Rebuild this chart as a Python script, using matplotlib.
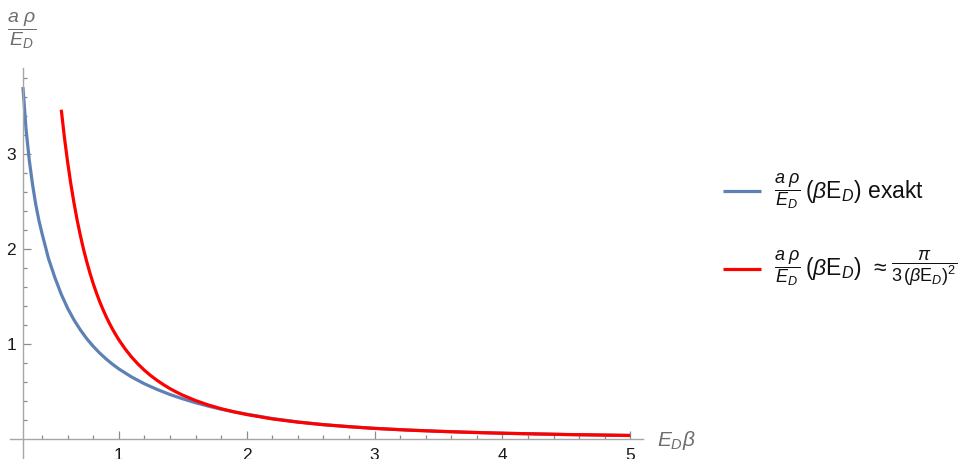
import matplotlib.pyplot as plt
from matplotlib.ticker import FixedLocator
from matplotlib.lines import Line2D
from matplotlib.offsetbox import (TextArea, HPacker, VPacker, DrawingArea,
                                  AnchoredOffsetbox)

plt.rcParams['font.family'] = ['Liberation Sans', 'DejaVu Sans']
plt.rcParams['mathtext.fontset'] = 'custom'
plt.rcParams['mathtext.rm'] = 'Liberation Sans'
plt.rcParams['mathtext.it'] = 'Liberation Sans:italic'
plt.rcParams['mathtext.bf'] = 'Liberation Sans:bold'

# exact density of states
x_exact = [0.25, 0.275, 0.30, 0.325, 0.35, 0.375, 0.40, 0.45, 0.50, 0.55,
           0.60, 0.65, 0.70, 0.75, 0.80, 0.85, 0.90, 0.95, 1.00, 1.10,
           1.20, 1.30, 1.40, 1.50, 1.60, 1.70, 1.80, 1.90, 2.00, 2.20,
           2.40, 2.60, 2.80, 3.00, 3.25, 3.50, 3.75, 4.00, 4.50, 5.00]
y_exact = [3.70, 3.25, 2.93, 2.68, 2.47, 2.30, 2.16, 1.90, 1.70, 1.524,
           1.377, 1.254, 1.149, 1.057, 0.978, 0.908, 0.846, 0.791, 0.741, 0.656,
           0.585, 0.525, 0.472, 0.427, 0.386, 0.350, 0.318, 0.291, 0.266, 0.220,
           0.184, 0.156, 0.135, 0.117, 0.100, 0.0865, 0.0752, 0.0660, 0.0522, 0.0423]

# high-temperature approximation pi / (3 (beta E_D)^2)
x_approx = [0.55, 0.575, 0.60, 0.625, 0.65, 0.675, 0.70, 0.725, 0.75, 0.775,
            0.80, 0.825, 0.85, 0.875, 0.90, 0.925, 0.95, 0.975, 1.00, 1.05,
            1.10, 1.15, 1.20, 1.25, 1.30, 1.35, 1.40, 1.45, 1.50, 1.60,
            1.70, 1.80, 1.90, 2.00, 2.20, 2.40, 2.60, 2.80, 3.00, 3.25,
            3.50, 3.75, 4.00, 4.50, 5.00]
y_approx = [3.462, 3.167, 2.909, 2.681, 2.479, 2.298, 2.137, 1.992, 1.862, 1.744,
            1.636, 1.539, 1.449, 1.368, 1.293, 1.224, 1.160, 1.102, 1.047, 0.950,
            0.865, 0.792, 0.727, 0.670, 0.620, 0.575, 0.534, 0.498, 0.465, 0.409,
            0.362, 0.323, 0.290, 0.262, 0.216, 0.182, 0.155, 0.134, 0.116, 0.099,
            0.0855, 0.0745, 0.0654, 0.0517, 0.0419]

x_major = [1, 2, 3, 4, 5]
y_major = [1, 2, 3]
x_minor = [0.4, 0.6, 0.8, 1.2, 1.4, 1.6, 1.8, 2.2, 2.4, 2.6, 2.8,
           3.2, 3.4, 3.6, 3.8, 4.2, 4.4, 4.6, 4.8]
y_minor = [0.2, 0.4, 0.6, 0.8, 1.2, 1.4, 1.6, 1.8, 2.2, 2.4, 2.6, 2.8,
           3.2, 3.4, 3.6, 3.8]

# legend entries: (text, fontsize) pieces laid out side by side
frac_rho = r'$\dfrac{a\;\rho}{E_D}$'
legend_exact = [(frac_rho, 13), (r'$(\beta\mathrm{E}_D)$ exakt', 16.5)]
legend_approx = [(frac_rho, 13), (r'$(\beta\mathrm{E}_D)\;\,\approx$', 16.5),
                 (r'$\dfrac{\pi}{3\,(\beta\mathrm{E}_D)^2}$', 13)]

blue, red = '#5E81B5', '#FF0000'

W, H = 969, 459
fig = plt.figure(figsize=(W / 100, H / 100), dpi=100)
ax = fig.add_axes([10 / W, 0, (643 - 10) / W, (459 - 68) / H])
ax.set_xlim(0.149, 5.1)
ax.set_ylim(-0.205, 3.9)

ax.plot(x_exact, y_exact, color=blue, lw=2.3,
        solid_capstyle='butt', solid_joinstyle='round')
ax.plot(x_approx, y_approx, color=red, lw=2.3,
        solid_capstyle='butt', solid_joinstyle='round')

axis_gray = '#A6A6A6'
for side in ('top', 'right'):
    ax.spines[side].set_visible(False)
ax.spines['left'].set_position(('data', 0.25))
ax.spines['bottom'].set_position(('data', 0))
for side in ('left', 'bottom'):
    ax.spines[side].set_color(axis_gray)
    ax.spines[side].set_linewidth(1.0)

ax.xaxis.set_major_locator(FixedLocator(x_major))
ax.yaxis.set_major_locator(FixedLocator(y_major))
ax.xaxis.set_minor_locator(FixedLocator(x_minor))
ax.yaxis.set_minor_locator(FixedLocator(y_minor))
ax.tick_params(which='both', direction='in', color='#8C8C8C', width=0.9,
               labelsize=12.5, labelcolor='#1a1a1a')
ax.tick_params(which='major', length=5.5)
ax.tick_params(which='minor', length=3)
ax.tick_params(axis='x', pad=6)
ax.tick_params(axis='y', pad=5)
ax.patch.set_visible(False)

# axis labels in the corners
fig.text(22 / W, 1 - 31 / H, r'$\dfrac{a\ \rho}{E_D}$', fontsize=14,
         color='#6E6E6E', ha='center', va='center')
fig.text(657 / W, 1 - 441 / H, r'$E_D\beta$', fontsize=15,
         color='#6E6E6E', ha='left', va='center')


def legend_row(color, pieces):
    swatch = DrawingArea(27, 10)
    swatch.add_artist(Line2D([0, 27], [5, 5], color=color, lw=2.3,
                             solid_capstyle='butt'))
    texts = [TextArea(t, textprops=dict(fontsize=s, color='#111111'))
             for t, s in pieces]
    label = HPacker(children=texts, align='center', pad=0, sep=3)
    return HPacker(children=[swatch, label], align='center', pad=0, sep=10)


rows = VPacker(children=[legend_row(blue, legend_exact),
                         legend_row(red, legend_approx)],
               align='left', pad=0, sep=27)
box = AnchoredOffsetbox(loc='center left', child=rows, pad=0, borderpad=0,
                        frameon=False, bbox_to_anchor=(723 / W, 1 - 230 / H),
                        bbox_transform=fig.transFigure)
fig.add_artist(box)

fig.savefig('out.png', dpi=100)
